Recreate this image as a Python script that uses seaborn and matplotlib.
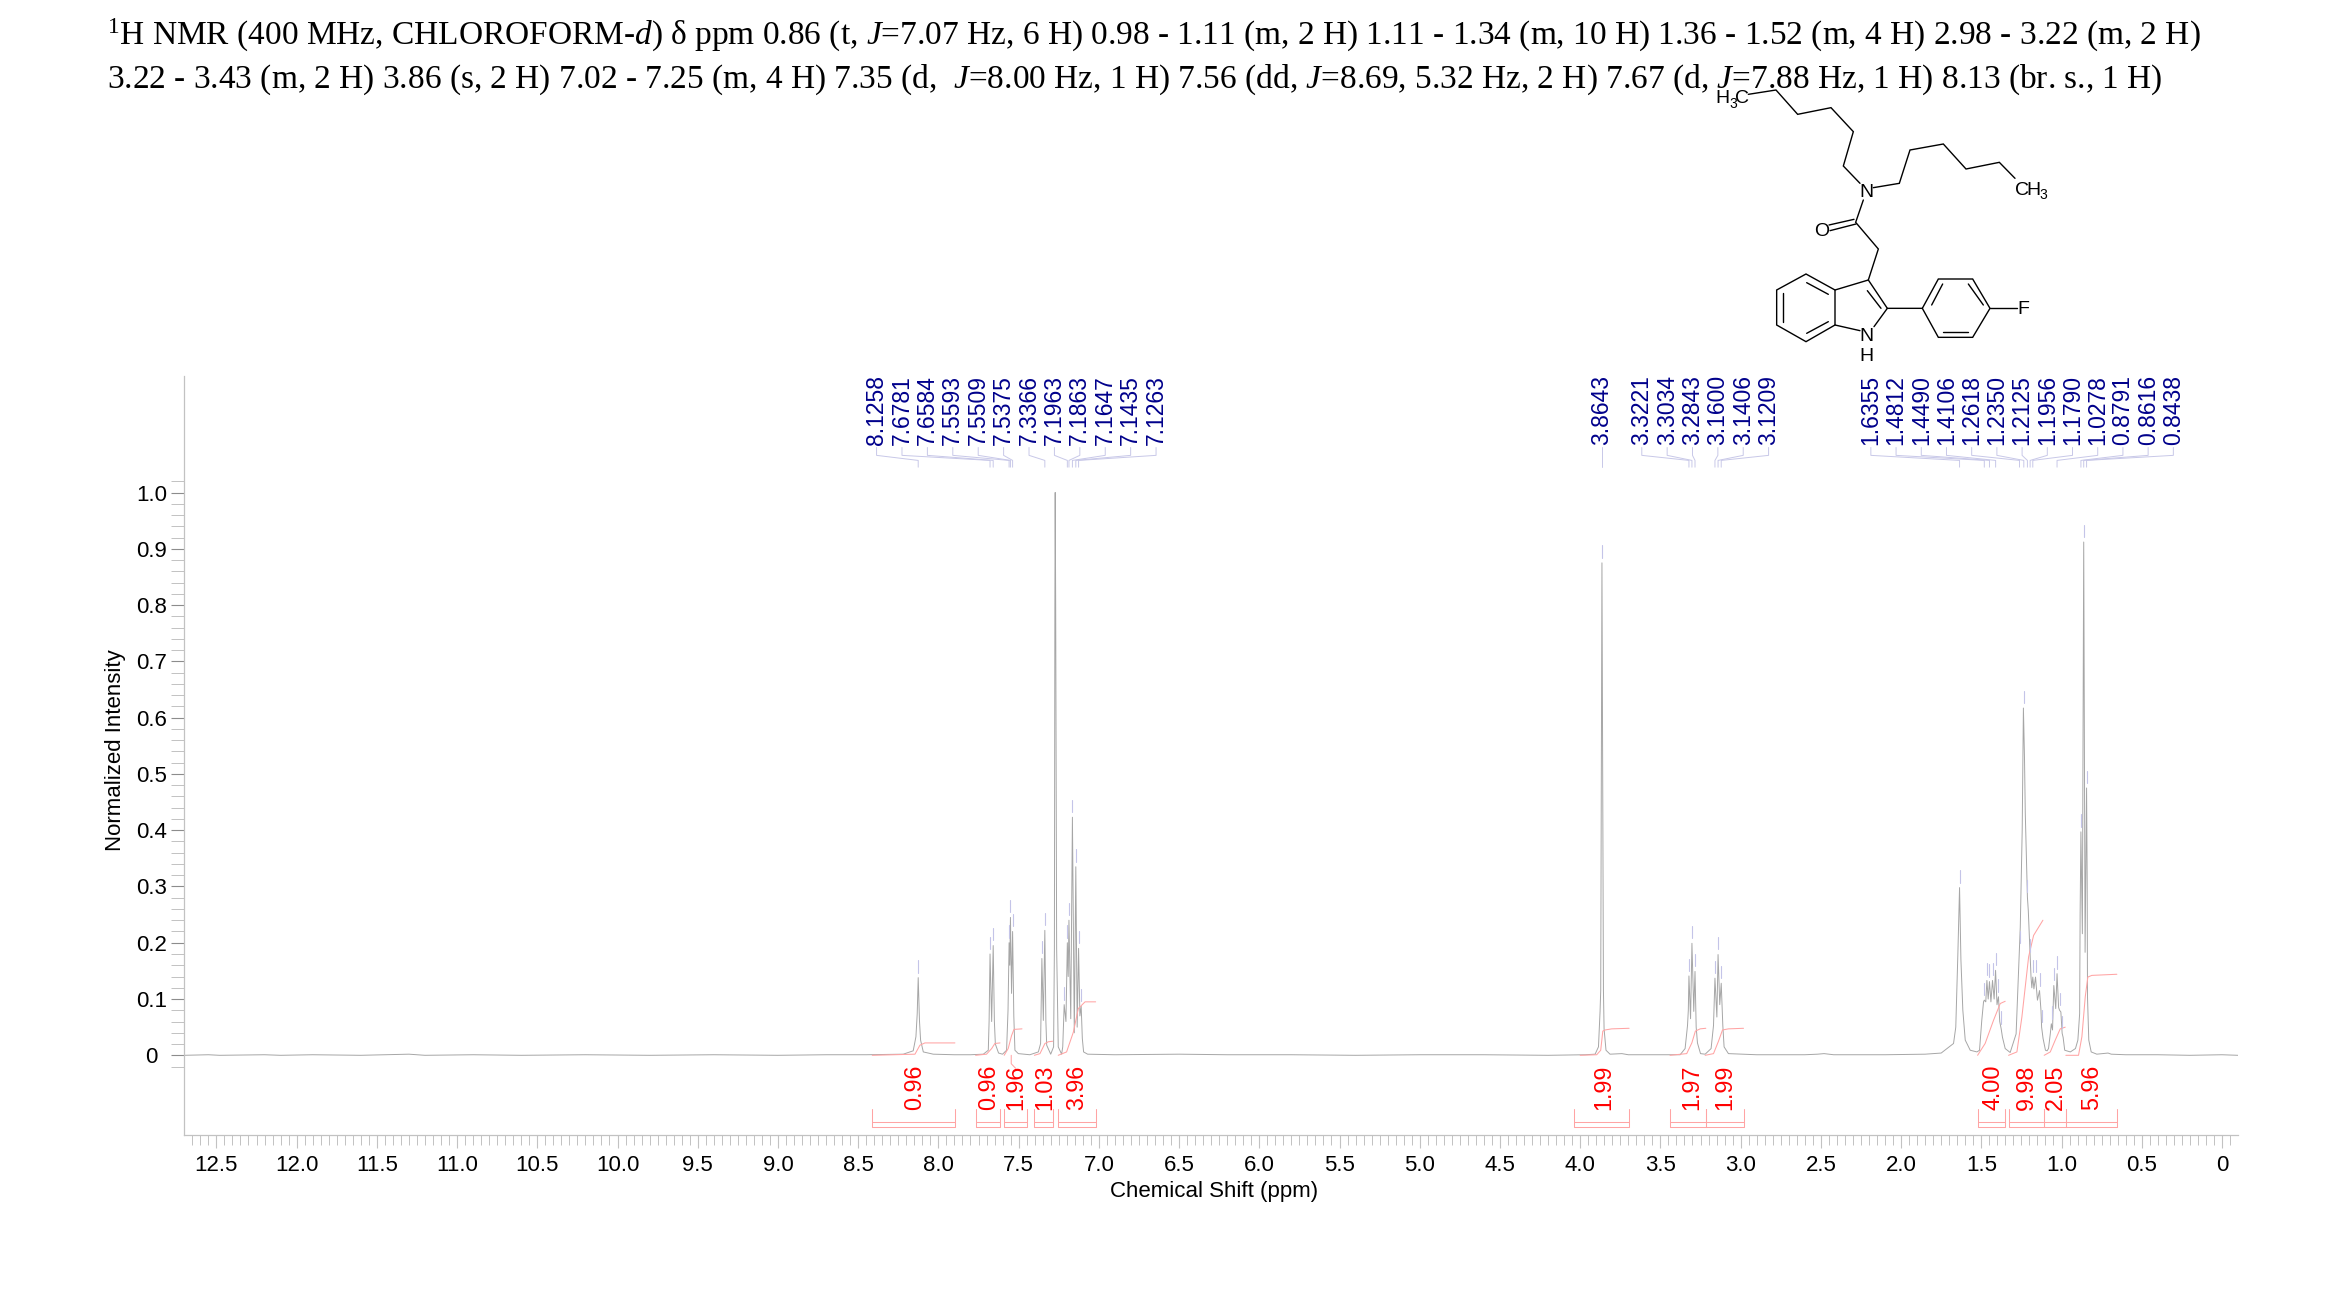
import pandas as pd
import matplotlib
matplotlib.use('Agg')
import matplotlib.pyplot as plt
import seaborn as sns

W, H = 2339, 1300

# --- spectrum: (ppm, normalized intensity) ---
baseline_left = [(12.70, 0.0), (12.55, 0.001), (12.48, 0.0), (12.2, 0.001), (12.1, 0.0), (11.9, 0.001), (11.6, 0.0),
                 (11.45, 0.001), (11.3, 0.002), (11.2, 0.0), (10.9, 0.001), (10.6, 0.0), (10.2, 0.001), (9.8, 0.0),
                 (9.4, 0.001), (9.0, 0.0), (8.7, 0.001), (8.45, 0.001), (8.219, 0.002)]
peak_813 = [(8.157, 0.008), (8.14, 0.033), (8.132, 0.074), (8.1258, 0.138), (8.118, 0.062), (8.111, 0.027),
            (8.094, 0.006), (8.032, 0.002), (7.9, 0.001), (7.8, 0.001), (7.72, 0.002)]
peaks_767 = [(7.689, 0.009), (7.684, 0.06), (7.6781, 0.18), (7.668, 0.06), (7.6584, 0.195), (7.651, 0.06),
             (7.645, 0.02), (7.625, 0.004), (7.60, 0.002)]
peaks_755 = [(7.575, 0.009), (7.566, 0.08), (7.5593, 0.20), (7.555, 0.16), (7.5509, 0.245), (7.544, 0.11),
             (7.5375, 0.22), (7.53, 0.07), (7.523, 0.009), (7.502, 0.003), (7.43, 0.001)]
peaks_735 = [(7.377, 0.006), (7.363, 0.021), (7.355, 0.172), (7.346, 0.062), (7.3366, 0.222), (7.33, 0.06),
             (7.325, 0.018), (7.30, 0.002)]
peak_solvent = [(7.282, 0.015), (7.277, 0.19), (7.274, 0.8), (7.272, 1.0), (7.269, 0.8), (7.263, 0.19), (7.253, 0.015),
                (7.232, 0.002)]
peaks_715 = [(7.225, 0.015), (7.216, 0.09), (7.205, 0.06), (7.1963, 0.2), (7.191, 0.14), (7.1863, 0.24), (7.175, 0.065),
             (7.1647, 0.423), (7.153, 0.04), (7.1435, 0.335), (7.135, 0.05), (7.1263, 0.19), (7.118, 0.07),
             (7.11, 0.087), (7.103, 0.03), (7.095, 0.006), (7.07, 0.002), (6.9, 0.001), (6.5, 0.002), (6.2, 0.001),
             (5.8, 0.001), (5.4, 0.0), (5.0, 0.001), (4.6, 0.001), (4.2, 0.0), (3.97, 0.001), (3.907, 0.002)]
peak_386 = [(3.886, 0.015), (3.876, 0.078), (3.872, 0.115), (3.8643, 0.875), (3.855, 0.115), (3.851, 0.047),
            (3.839, 0.009), (3.814, 0.002), (3.74, 0.003), (3.70, 0.001), (3.55, 0.001), (3.42, 0.001), (3.377, 0.001)]
peaks_330 = [(3.346, 0.012), (3.331, 0.053), (3.326, 0.08), (3.3221, 0.141), (3.312, 0.065), (3.3034, 0.199),
             (3.292, 0.078), (3.2843, 0.149), (3.277, 0.05), (3.269, 0.022), (3.25, 0.003), (3.221, 0.002)]
peaks_315 = [(3.184, 0.012), (3.169, 0.053), (3.16, 0.137), (3.148, 0.068), (3.1406, 0.179), (3.13, 0.09),
             (3.1209, 0.128), (3.111, 0.053), (3.103, 0.015), (3.076, 0.003), (2.9, 0.001), (2.6, 0.001),
             (2.52, 0.002), (2.48, 0.003), (2.42, 0.001), (2.1, 0.001), (1.85, 0.002), (1.75, 0.004)]
peak_164 = [(1.673, 0.021), (1.659, 0.05), (1.646, 0.18), (1.6355, 0.298), (1.627, 0.17), (1.615, 0.08), (1.60, 0.027),
            (1.569, 0.009), (1.527, 0.006)]
peaks_144 = [(1.511, 0.009), (1.497, 0.062), (1.486, 0.095), (1.4812, 0.098), (1.472, 0.095), (1.465, 0.133),
             (1.457, 0.10), (1.449, 0.131), (1.44, 0.095), (1.43, 0.133), (1.42, 0.10), (1.411, 0.151), (1.402, 0.09),
             (1.393, 0.104), (1.385, 0.06), (1.376, 0.047), (1.368, 0.032), (1.351, 0.012), (1.32, 0.005)]
peaks_123 = [(1.283, 0.038), (1.274, 0.103), (1.2618, 0.19), (1.257, 0.228), (1.251, 0.31), (1.245, 0.40),
             (1.2375, 0.617), (1.2308, 0.53), (1.2258, 0.43), (1.2155, 0.31), (1.2125, 0.281), (1.207, 0.257),
             (1.1956, 0.175), (1.19, 0.139), (1.185, 0.12), (1.179, 0.139), (1.172, 0.118), (1.162, 0.139),
             (1.15, 0.098), (1.137, 0.115), (1.128, 0.08), (1.124, 0.05), (1.115, 0.03), (1.10, 0.009), (1.09, 0.008)]
peaks_103 = [(1.081, 0.012), (1.07, 0.038), (1.0635, 0.056), (1.056, 0.045), (1.048, 0.124), (1.036, 0.083),
             (1.0278, 0.145), (1.018, 0.085), (1.012, 0.08), (1.004, 0.077), (0.996, 0.039), (0.99, 0.032),
             (0.98, 0.009), (0.945, 0.006)]
peaks_086 = [(0.913, 0.012), (0.898, 0.027), (0.887, 0.074), (0.884, 0.25), (0.8791, 0.397), (0.87, 0.216),
             (0.8616, 0.912), (0.853, 0.183), (0.8438, 0.475), (0.84, 0.311), (0.838, 0.103), (0.83, 0.027),
             (0.815, 0.006), (0.78, 0.002), (0.71, 0.004), (0.69, 0.002), (0.6, 0.001), (0.4, 0.001), (0.2, 0.0),
             (0.0, 0.001), (-0.10, 0.0)]

# dashes over the picked peaks: (ppm, top of peak)
dash_peaks = [(8.1258, 0.138), (7.6781, 0.18), (7.6584, 0.195), (7.5593, 0.20), (7.5509, 0.245), (7.5375, 0.22),
              (7.355, 0.172), (7.3366, 0.222), (7.216, 0.09), (7.1963, 0.2), (7.1863, 0.24), (7.1647, 0.423),
              (7.1435, 0.335), (7.1263, 0.19), (7.11, 0.087), (3.8643, 0.875), (3.3221, 0.141), (3.3034, 0.199),
              (3.2843, 0.149), (3.16, 0.137), (3.1406, 0.179), (3.1209, 0.128), (1.6355, 0.298), (1.4812, 0.098),
              (1.465, 0.133), (1.449, 0.131), (1.43, 0.133), (1.4106, 0.151), (1.393, 0.104), (1.376, 0.047),
              (1.2618, 0.19), (1.235, 0.617), (1.2125, 0.281), (1.1956, 0.175), (1.179, 0.139), (1.162, 0.139),
              (1.137, 0.115), (1.124, 0.05), (1.062, 0.056), (1.048, 0.124), (1.0278, 0.145), (1.012, 0.08),
              (0.996, 0.039), (0.8791, 0.397), (0.8616, 0.912), (0.8438, 0.475)]

labels_aromatic = ['8.1258', '7.6781', '7.6584', '7.5593', '7.5509', '7.5375', '7.3366', '7.1963', '7.1863', '7.1647',
                   '7.1435', '7.1263']
labels_386 = ['3.8643']
labels_3 = ['3.3221', '3.3034', '3.2843', '3.1600', '3.1406', '3.1209']
labels_aliphatic = ['1.6355', '1.4812', '1.4490', '1.4106', '1.2618', '1.2350', '1.2125', '1.1956', '1.1790', '1.0278',
                    '0.8791', '0.8616', '0.8438']

# integral curves
integrals = [
    [(8.412, 0.0), (8.146, 0.002), (8.115, 0.018), (8.084, 0.022), (7.897, 0.022)],
    [(7.768, 0.0), (7.70, 0.002), (7.668, 0.012), (7.648, 0.021), (7.616, 0.022)],
    [(7.59, 0.0), (7.565, 0.012), (7.544, 0.035), (7.529, 0.046), (7.479, 0.047)],
    [(7.402, 0.0), (7.367, 0.003), (7.336, 0.021), (7.315, 0.024), (7.288, 0.025)],
    [(7.253, 0.0), (7.201, 0.006), (7.159, 0.041), (7.128, 0.083), (7.086, 0.095), (7.02, 0.095)],
    [(4.00, 0.0), (3.897, 0.001), (3.872, 0.009), (3.859, 0.043), (3.845, 0.045), (3.803, 0.047), (3.695, 0.048)],
    [(3.44, 0.0), (3.336, 0.003), (3.304, 0.022), (3.282, 0.043), (3.252, 0.047), (3.217, 0.048)],
    [(3.221, 0.0), (3.169, 0.003), (3.138, 0.025), (3.113, 0.045), (3.076, 0.047), (2.982, 0.048)],
    [(1.523, 0.0), (1.476, 0.021), (1.424, 0.062), (1.382, 0.092), (1.351, 0.096)],
    [(1.33, 0.0), (1.278, 0.006), (1.247, 0.068), (1.205, 0.175), (1.174, 0.213), (1.116, 0.24)],
    [(1.108, 0.0), (1.07, 0.006), (1.039, 0.027), (1.008, 0.047), (0.977, 0.05)],
    [(0.973, 0.0), (0.894, 0.0), (0.873, 0.033), (0.852, 0.104), (0.836, 0.139), (0.811, 0.142), (0.655, 0.144)],
]
integral_leader = [(7.546, 0.0), (7.546, -0.015), (7.519, -0.023)]
integral_values = ['0.96', '0.96', '1.96', '1.03', '3.96', '1.99', '1.97', '1.99', '4.00', '9.98', '2.05', '5.96']
integral_label_ppm = [8.15, 7.69, 7.52, 7.336, 7.136, 3.853, 3.305, 3.10, 1.43, 1.22, 1.039, 0.81]
integral_ranges = [(8.412, 7.897), (7.768, 7.616), (7.59, 7.45), (7.402, 7.288), (7.253, 7.02), (4.04, 3.695),
                   (3.44, 3.217), (3.217, 2.982), (1.523, 1.351), (1.33, 1.108), (1.108, 0.973), (0.973, 0.655)]

xtick_vals = [12.5, 12.0, 11.5, 11.0, 10.5, 10.0, 9.5, 9.0, 8.5, 8.0, 7.5, 7.0, 6.5, 6.0, 5.5, 5.0, 4.5, 4.0, 3.5, 3.0,
              2.5, 2.0, 1.5, 1.0, 0.5, 0.0]
xtick_text = ['12.5', '12.0', '11.5', '11.0', '10.5', '10.0', '9.5', '9.0', '8.5', '8.0', '7.5', '7.0', '6.5', '6.0',
              '5.5', '5.0', '4.5', '4.0', '3.5', '3.0', '2.5', '2.0', '1.5', '1.0', '0.5', '0']
ytick_vals = [0, 0.1, 0.2, 0.3, 0.4, 0.5, 0.6, 0.7, 0.8, 0.9, 1.0]
ytick_text = ['0', '0.1', '0.2', '0.3', '0.4', '0.5', '0.6', '0.7', '0.8', '0.9', '1.0']

title_1 = (r"$^{1}$H NMR (400 MHz, CHLOROFORM-$\mathit{d}$) δ ppm 0.86 (t, $\mathit{J}$=7.07 Hz, 6 H) 0.98 - 1.11 (m, 2 H) "
           r"1.11 - 1.34 (m, 10 H) 1.36 - 1.52 (m, 4 H) 2.98 - 3.22 (m, 2 H)")
title_2 = (r"3.22 - 3.43 (m, 2 H) 3.86 (s, 2 H) 7.02 - 7.25 (m, 4 H) 7.35 (d,  $\mathit{J}$=8.00 Hz, 1 H) "
           r"7.56 (dd, $\mathit{J}$=8.69, 5.32 Hz, 2 H) 7.67 (d, $\mathit{J}$=7.88 Hz, 1 H) 8.13 (br. s., 1 H)")

# structure drawing, coordinates in zoomed crop pixels
bonds = [
    [(295, 103), (378, 90), (443, 163), (543, 143), (610, 215), (580, 318), (630, 370)],
    [(670, 383), (748, 370), (780, 270), (880, 252), (948, 327), (1048, 307), (1095, 355)],
    [(640, 420), (617, 487), (685, 567), (655, 660), (712, 745), (672, 800)],
    [(537, 495), (612, 478)], [(540, 512), (618, 492)],
    [(630, 812), (555, 795), (555, 690), (655, 660)],
    [(555, 690), (468, 642), (380, 690), (380, 795), (468, 845), (555, 795)],
    [(470, 668), (535, 703)], [(398, 700), (398, 785)], [(470, 820), (535, 785)], [(652, 692), (693, 745)],
    [(712, 745), (817, 745), (865, 657), (968, 657), (1020, 745), (968, 832), (865, 832), (817, 745)],
    [(845, 735), (878, 672)], [(955, 672), (1000, 735)], [(878, 815), (955, 815)],
    [(1020, 745), (1100, 745)],
]
atoms = [('H', 218, 116, 14), ('3', 249, 132, 10), ('C', 275, 116, 14), ('N', 648, 397, 14), ('O', 516, 514, 14),
         ('C', 1117, 391, 14), ('H', 1150, 391, 14), ('3', 1180, 406, 10), ('N', 650, 829, 14), ('H', 650, 889, 14),
         ('F', 1120, 749, 14)]

sns.set_theme(style='white')
plt.rcParams['font.family'] = ['Liberation Sans', 'DejaVu Sans']
plt.rcParams['mathtext.fontset'] = 'custom'
plt.rcParams['mathtext.rm'] = 'Liberation Serif'
plt.rcParams['mathtext.it'] = 'Liberation Serif:italic'
plt.rcParams['mathtext.bf'] = 'Liberation Serif:bold'

GREY = '#c2c2c2'
SPEC = '#a6a6a6'
FONT = 16

fig = plt.figure(figsize=(W / 100, H / 100), dpi=100)
ax = fig.add_axes([184.3 / W, 1 - 1135 / H, (2238 - 184.3) / W, (1135 - 376) / H])

regions = [baseline_left, peak_813, peaks_767, peaks_755, peaks_735, peak_solvent, peaks_715, peak_386, peaks_330,
           peaks_315, peak_164, peaks_144, peaks_123, peaks_103, peaks_086]
spectrum = pd.DataFrame([p for r in regions for p in r], columns=['ppm', 'intensity'])
sns.lineplot(data=spectrum, x='ppm', y='intensity', sort=False, estimator=None, color=SPEC, linewidth=0.7, ax=ax)

ax.set_xlim(12.70, -0.10)
ax.set_ylim(-0.1416, 1.207)

for curve in integrals + [integral_leader]:
    ax.plot([p[0] for p in curve], [p[1] for p in curve], color='#ffa4a4', lw=0.75)

for (left, right), val, lab_x in zip(integral_ranges, integral_values, integral_label_ppm):
    ax.plot([left, left, right, right], [-0.096, -0.127, -0.127, -0.096], color='#ffa4a4', lw=0.75)
    ax.plot([left, right], [-0.119, -0.119], color='#ffa4a4', lw=0.75)
    ax.text(lab_x, -0.098, val, rotation=90, ha='center', va='bottom', color='#ff0000', fontsize=16.8)

# dashes and labels of the peak picking
for ppm, top in dash_peaks:
    ax.plot([ppm, ppm], [top + 0.009, top + 0.031], color='#c4c4e8', lw=0.8)

PX = 160.4
groups = [(labels_aromatic, (2221.7 - 876.7) / PX, 25.4 / PX), (labels_386, 3.8643, 0),
          (labels_3, (2221.7 - 1641.7) / PX, 25.35 / PX), (labels_aliphatic, (2221.7 - 1870.7) / PX, 25.2 / PX)]
for labs, start, step in groups:
    for i, lab in enumerate(labs):
        lx = start - i * step
        ax.text(lx, 1.084, lab, rotation=90, ha='center', va='bottom', color='#00008b', fontsize=16.5)
        ax.plot([lx, lx, float(lab), float(lab)], [1.080, 1.066, 1.057, 1.045], color='#c8c8e8', lw=0.7)

# axes look
sns.despine(ax=ax)
for s in ['left', 'bottom']:
    ax.spines[s].set_color(GREY)
    ax.spines[s].set_linewidth(0.9)
ax.set_xticks(xtick_vals, xtick_text)
ax.set_xticks([i * 0.05 for i in range(-1, 254)], minor=True)
ax.set_yticks(ytick_vals, ytick_text)
ax.set_yticks([i * 0.02 for i in range(-1, 52)], minor=True)
ax.tick_params(axis='x', which='major', bottom=True, length=9.4, width=0.8, color=GREY, pad=5, labelsize=FONT,
               labelcolor='black')
ax.tick_params(axis='x', which='minor', bottom=True, length=4.6, width=0.7, color=GREY)
ax.tick_params(axis='y', which='major', left=True, length=9.4, width=0.8, color='#8c8c8c', pad=14, labelsize=FONT,
               labelcolor='black')
ax.tick_params(axis='y', which='minor', left=True, length=4.3, width=0.7, color=GREY)
for t in ax.xaxis.get_minor_ticks():
    if abs(t.get_loc() / 0.25 - round(t.get_loc() / 0.25)) < 1e-6:
        t.tick1line.set_markersize(7)
for t in ax.yaxis.get_minor_ticks():
    if abs(t.get_loc() / 0.05 - round(t.get_loc() / 0.05)) < 1e-6:
        t.tick1line.set_markersize(9.4)
for t in ax.get_yticklabels():
    t.set_ha('center')
ax.set_xlabel('')
ax.set_ylabel('')

# page level text and the structure, in image pixels
page = fig.add_axes([0, 0, 1, 1], facecolor='none')
page.set_xlim(0, W)
page.set_ylim(H, 0)
page.axis('off')
page.text(1214, 1191, 'Chemical Shift (ppm)', ha='center', va='center', fontsize=16, color='black')
page.text(115, 750, 'Normalized Intensity', rotation=90, ha='center', va='center', fontsize=16, color='black')
page.text(107, 45, title_1, ha='left', va='baseline', fontsize=24, color='black', family='Liberation Serif')
page.text(107, 88, title_2, ha='left', va='baseline', fontsize=24, color='black', family='Liberation Serif')

for bond in bonds:
    page.plot([1650 + p[0] / 3 for p in bond], [60 + p[1] / 3 for p in bond], color='black', lw=1.0,
              solid_joinstyle='miter')
for sym, zx, zy, size in atoms:
    page.text(1650 + zx / 3, 60 + zy / 3, sym, ha='center', va='center', fontsize=size, color='black')

fig.savefig('out.png', dpi=100, facecolor='white')
